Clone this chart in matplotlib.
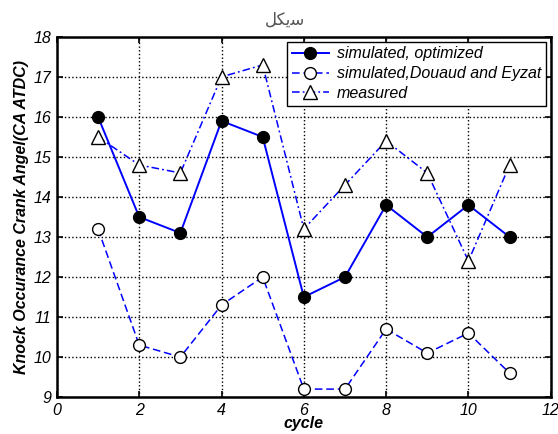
import matplotlib.pyplot as plt

# Data
cycles = [1, 2, 3, 4, 5, 6, 7, 8, 9, 10, 11]
optimized = [16.0, 13.5, 13.1, 15.9, 15.5, 11.5, 12.0, 13.8, 13.0, 13.8, 13.0]
douaud = [13.2, 10.3, 10.0, 11.3, 12.0, 9.2, 9.2, 10.7, 10.1, 10.6, 9.6]
measured = [15.5, 14.8, 14.6, 17.0, 17.3, 13.2, 14.3, 15.4, 14.6, 12.4, 14.8]

x_ticks = [0, 2, 4, 6, 8, 10, 12]
y_ticks = [9, 10, 11, 12, 13, 14, 15, 16, 17, 18]

# Title "سیکل" written in shaped presentation forms (visual order)
title_text = '\uFEDE\uFB91\uFBFE\uFEB3'

plt.rcParams['font.family'] = ['Liberation Sans', 'DejaVu Sans']

fig = plt.figure(figsize=(5.58, 4.34), dpi=100)
ax = fig.add_axes([0.102, 0.085, 0.885, 0.83])

blue = '#0000ff'
ax.plot(cycles, optimized, '-', color=blue, lw=1.4, marker='o', ms=8.5,
        mfc='black', mec='black', label='simulated, optimized')
ax.plot(cycles, douaud, color=blue, lw=1.1, linestyle=(0, (5, 2.5)),
        marker='o', ms=8.5, mfc='white', mec='black',
        label='simulated,Douaud and Eyzat')
ax.plot(cycles, measured, color=blue, lw=1.1, linestyle=(0, (5, 2, 1.2, 2)),
        marker='^', ms=9.5, mfc='white', mec='black', label='measured')

ax.set_xlim(0, 12)
ax.set_ylim(9, 18)
ax.set_xticks(x_ticks)
ax.set_yticks(y_ticks)
ax.tick_params(direction='in', top=True, right=True, length=4, width=1.2,
               labelsize=11.5, pad=4)
for lab in ax.get_xticklabels() + ax.get_yticklabels():
    lab.set_fontstyle('italic')
for s in ax.spines.values():
    s.set_linewidth(1.8)

ax.grid(True, color='black', linestyle=':', linewidth=1.0)

ax.set_xlabel('cycle', fontsize=11.5, fontweight='bold', fontstyle='italic', labelpad=-1)
ax.set_ylabel('Knock Occurance Crank Angel(CA ATDC)', fontsize=11.5,
              fontweight='bold', fontstyle='italic', labelpad=3)

leg = ax.legend(loc='upper right', prop={'style': 'italic', 'size': 11.5},
                fancybox=False, framealpha=1, edgecolor='black',
                borderaxespad=0.3, handlelength=2.3, handletextpad=0.5,
                labelspacing=0.3, borderpad=0.3)
leg.get_frame().set_linewidth(1.0)

fig.text(0.51, 0.955, title_text, family=['DejaVu Sans'], fontsize=12,
         color='#555555', ha='center', va='center')

fig.savefig('out.png', dpi=100)
